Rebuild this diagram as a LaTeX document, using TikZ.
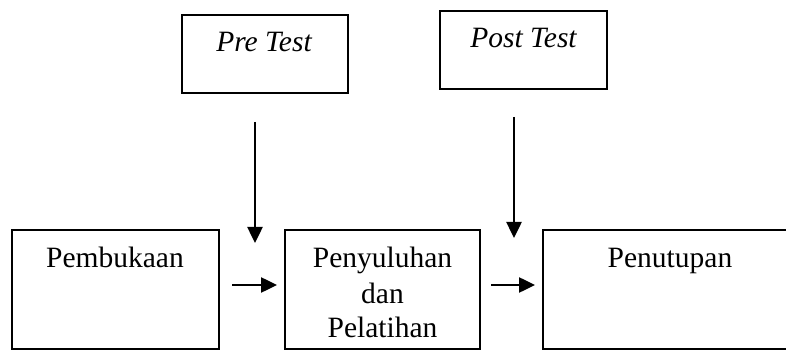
\documentclass[tikz,border=0pt]{standalone}
\usepackage{fontspec}
\setmainfont{Liberation Serif}
\usetikzlibrary{arrows.meta}
\tikzset{
  boxnode/.style={draw=black, line width=1.7pt, inner sep=0pt, fill=none},
  txt/.style={anchor=base, inner sep=0pt, font=\fontsize{29.5}{34.5}\selectfont},
  conn/.style={line width=2.5pt, -{Triangle[length=16pt,width=15pt]}}
}
\begin{document}
\begin{tikzpicture}[x=1pt,y=-1pt]
\useasboundingbox (0,0) rectangle (786,352);
% boxes
\node[boxnode, minimum width=166pt, minimum height=78pt] (pre) at (265,54) {};
\node[boxnode, minimum width=167pt, minimum height=78pt] (post) at (523.5,50) {};
\node[boxnode, minimum width=207pt, minimum height=119pt] (pemb) at (115.5,289.5) {};
\node[boxnode, minimum width=195pt, minimum height=119pt] (peny) at (382.5,289.5) {};
\node[boxnode, minimum width=253pt, minimum height=119pt] (penut) at (669.5,289.5) {};
% texts
\node[txt] (pretxt) at (264,52) {\itshape Pre Test};
\node[txt] (posttxt) at (523.5,48) {\itshape Post Test};
\node[txt] (pembtxt) at (115,268) {Pembukaan};
\node[txt] (penytxtA) at (382.5,268) {Penyuluhan};
\node[txt] (penytxtB) at (382.5,303) {dan};
\node[txt] (penytxtC) at (382.5,337) {Pelatihan};
\node[txt] (penuttxt) at (670,268) {Penutupan};
% connector ends
\coordinate (v1s) at (255,122);
\coordinate (v1e) at (255,243);
\coordinate (v2s) at (514,117);
\coordinate (v2e) at (514,238);
\coordinate (h1s) at (232,285);
\coordinate (h1e) at (277,285);
\coordinate (h2s) at (491,285);
\coordinate (h2e) at (535,285);
\draw[conn] (v1s) -- (v1e);
\draw[conn] (v2s) -- (v2e);
\draw[conn] (h1s) -- (h1e);
\draw[conn] (h2s) -- (h2e);
\end{tikzpicture}
\end{document}
